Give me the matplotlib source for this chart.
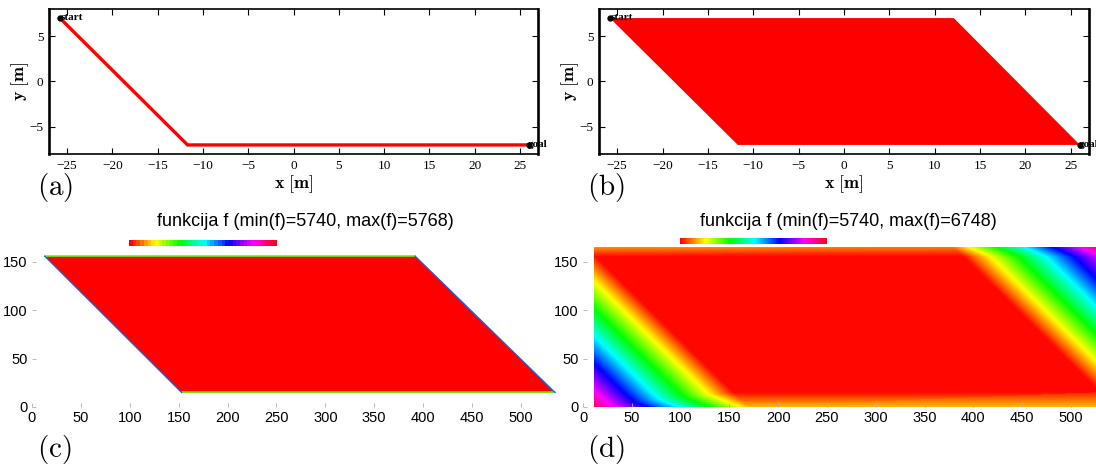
import matplotlib
matplotlib.use('Agg')
from matplotlib import pyplot as plt
from matplotlib import tri
from matplotlib.cm import ScalarMappable
from matplotlib.colors import Normalize
import numpy as np

plt.rcParams['mathtext.fontset'] = 'cm'

W, H = 1096, 470

# --- (a), (b): path in metres
start = (-25.8, 7.0)
goal = (26.0, -7.0)
path_x = [-25.8, -11.7, 26.0]
path_y = [7.0, -7.0, -7.0]
band_x = [-25.8, 12.1, 26.0, -11.7]
band_y = [7.0, 7.0, -7.0, -7.0]
x_ticks = [-25, -20, -15, -10, -5, 0, 5, 10, 15, 20, 25]
y_ticks = [-5, 0, 5]

# --- (c): cost f on grid cells
c_min, c_max = 5740, 5768
c_corner_x = [13, 392, 535, 153]
c_corner_y = [156, 156, 15, 15]
c_edge_flat = 5748   # top / bottom rows of the band
c_edge_diag = 5757   # slanted sides

# --- (d): cost f read at the corners of the grid regions
d_min, d_max = 5740, 6748
d_node_x = [12, 169, 535, 12, 154, 531, 535, 12, 390, 535, 12, 380, 535]
d_node_y = [0, 0, 0, 15, 15, 15, 15, 156, 156, 156, 166, 166, 166]
d_node_f = [6700, 5864, 5864, 6596, 5744, 5744, 5764, 5746, 5744, 6608, 5840, 5824, 6740]
d_tris = [[0, 1, 4], [0, 4, 3], [1, 2, 6], [1, 6, 5], [1, 5, 4], [3, 4, 7],
          [4, 5, 8], [4, 8, 7], [5, 6, 9], [5, 9, 8], [7, 8, 11], [7, 11, 10],
          [8, 9, 12], [8, 12, 11]]
grid_ticks_x = [0, 50, 100, 150, 200, 250, 300, 350, 400, 450, 500]
grid_ticks_y = [0, 50, 100, 150]

fig = plt.figure(figsize=(W / 100, H / 100), dpi=100)


def px_axes(l, t, r, b):
    return fig.add_axes([l / W, 1 - b / H, (r - l) / W, (b - t) / H])


def top_panel(ax, filled):
    if filled:
        ax.fill(band_x, band_y, color='red', lw=0)
    else:
        ax.plot(path_x, path_y, color='red', lw=2.4)
    ax.plot(*start, 'o', color='k', ms=3.5, clip_on=False)
    ax.plot(*goal, 'o', color='k', ms=3.5, clip_on=False)
    ax.text(start[0] + 0.1, start[1] + 0.05, 'start', fontsize=8, fontweight='bold',
            family='Liberation Serif', ha='left', va='center')
    ax.text(goal[0] - 0.1, goal[1], 'goal', fontsize=8, fontweight='bold',
            family='Liberation Serif', ha='left', va='center', clip_on=False)
    ax.set_xlim(-27, 27)
    ax.set_ylim(-8, 8)
    ax.set_xticks(x_ticks)
    ax.set_yticks(y_ticks)
    ax.tick_params(direction='in', top=True, right=True, length=4, width=0.8,
                   labelsize=9.5, pad=4)
    for lab in ax.get_xticklabels() + ax.get_yticklabels():
        lab.set_family('Liberation Serif')
    for s in ['left', 'right']:
        ax.spines[s].set_linewidth(1.9)
    for s in ['top', 'bottom']:
        ax.spines[s].set_linewidth(1.2)
    ax.set_xlabel(r'$\mathbf{x\ [m]}$', fontsize=13, labelpad=1)
    ax.set_ylabel(r'$\mathbf{y\ [m]}$', fontsize=13, labelpad=-1)


ax_a = px_axes(49, 9, 538, 154)
top_panel(ax_a, False)
ax_b = px_axes(599, 9, 1089, 154)
top_panel(ax_b, True)


def grid_panel(ax):
    ax.set_xlim(0, 536)
    ax.set_ylim(0, 166)
    ax.set_xticks(grid_ticks_x)
    ax.set_yticks(grid_ticks_y)
    for s in ax.spines.values():
        s.set_visible(False)
    ax.tick_params(direction='in', length=3, width=0.6, color='#b0b0b0',
                   labelsize=10.5)
    ax.tick_params(axis='x', pad=3)
    ax.tick_params(axis='y', pad=3)
    for lab in ax.get_xticklabels() + ax.get_yticklabels():
        lab.set_family('Liberation Sans')


cmap = plt.get_cmap('hsv')

# (c)
ax_c = px_axes(32, 246.5, 556, 407)
norm_c = Normalize(c_min, c_max)
ax_c.fill(c_corner_x, c_corner_y, color=cmap(norm_c(c_min)), lw=0)
ax_c.plot([c_corner_x[0], c_corner_x[1]], [c_corner_y[0], c_corner_y[1]],
          color=cmap(norm_c(c_edge_flat)), lw=1.1)
ax_c.plot([c_corner_x[3], c_corner_x[2]], [c_corner_y[3], c_corner_y[2]],
          color=cmap(norm_c(c_edge_flat)), lw=1.1)
ax_c.plot([c_corner_x[0], c_corner_x[3]], [c_corner_y[0], c_corner_y[3]],
          color=cmap(norm_c(c_edge_diag)), lw=0.9)
ax_c.plot([c_corner_x[1], c_corner_x[2]], [c_corner_y[1], c_corner_y[2]],
          color=cmap(norm_c(c_edge_diag)), lw=0.9)
grid_panel(ax_c)

# (d)
ax_d = px_axes(583, 246.5, 1106, 407)
norm_d = Normalize(d_min, d_max)
mesh = tri.Triangulation(d_node_x, d_node_y, d_tris)
levels = np.linspace(d_min, d_max, 257)
ax_d.tricontourf(mesh, d_node_f, levels=levels, cmap=cmap, norm=norm_d,
                 extend='both', antialiased=False)
grid_panel(ax_d)

# colour bars
for (l, t, r, b), nrm, n in [((129, 240, 277, 246), norm_c, 40),
                             ((680, 238, 827, 244), norm_d, 256)]:
    cax = px_axes(l, t, r, b)
    cb = fig.colorbar(ScalarMappable(norm=nrm, cmap=plt.get_cmap('hsv', n)),
                      cax=cax, orientation='horizontal')
    cb.set_ticks([])
    cb.outline.set_visible(False)

fig.text(305 / W, 1 - 222 / H, 'funkcija f (min(f)=%d, max(f)=%d)' % (c_min, c_max),
         ha='center', va='center', fontsize=13, family='Liberation Sans')
fig.text(848 / W, 1 - 222 / H, 'funkcija f (min(f)=%d, max(f)=%d)' % (d_min, d_max),
         ha='center', va='center', fontsize=13, family='Liberation Sans')

for lbl, (cx, cy) in [('a', (55, 188)), ('b', (606, 188)),
                      ('c', (54, 450)), ('d', (606, 450))]:
    fig.text(cx / W, 1 - cy / H, r'$(\mathrm{%s})$' % lbl, ha='center', va='center',
             fontsize=21)

fig.savefig('out.png', dpi=100)
